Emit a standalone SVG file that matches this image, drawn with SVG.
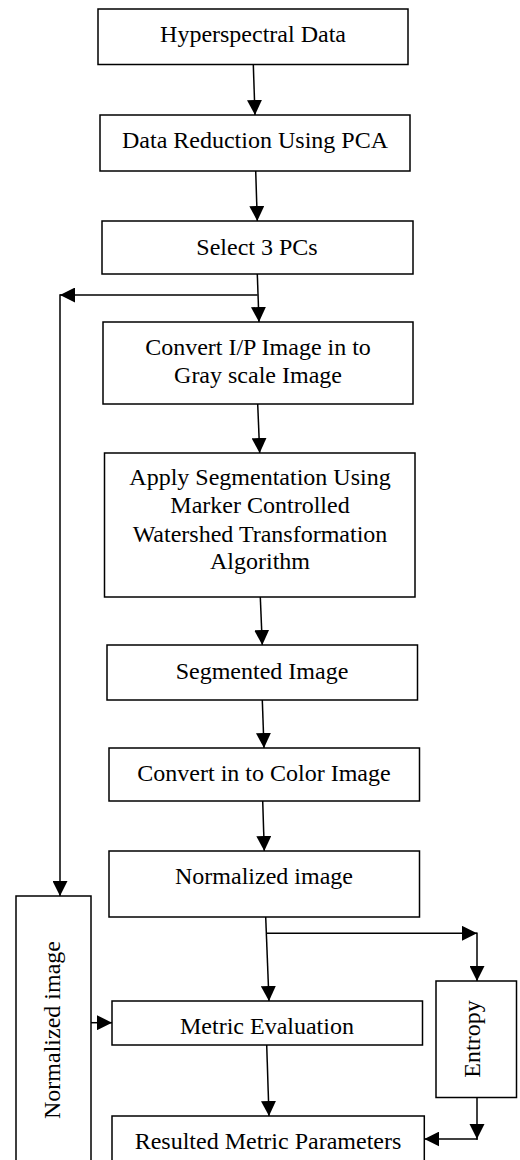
<svg xmlns="http://www.w3.org/2000/svg" width="520" height="1160" viewBox="0 0 520 1160">
<defs>
<style>
.box{fill:#fff;stroke:#000;stroke-width:1.5}
.lbl{font-family:"Liberation Serif","Times New Roman",serif;font-size:24px;fill:#000;text-anchor:middle}
.c{fill:none;stroke:#000;stroke-width:1.5}
.a{marker-end:url(#ah)}
</style>
<marker id="ah" markerUnits="userSpaceOnUse" markerWidth="15" markerHeight="15" viewBox="0 0 15 15" refX="15" refY="7.5" orient="auto">
<path d="M0,0 L15,7.5 L0,15 z" fill="#000"/>
</marker>
</defs>
<rect width="520" height="1160" fill="#fff"/>
<g id="connectors">
<path class="c a" d="M253.3,64.5 L255,115"/>
<path class="c a" d="M255.7,171 L257.3,221"/>
<path class="c a" d="M257.3,274 L259,322"/>
<path class="c a" d="M257.6,295 L60,295"/>
<path class="c a" d="M60,294.3 L60,896"/>
<path class="c a" d="M257.7,404 L259.7,453"/>
<path class="c a" d="M260.3,597 L262.3,645"/>
<path class="c a" d="M262.3,700 L264,748"/>
<path class="c a" d="M262.7,801 L264.3,851"/>
<path class="c a" d="M265.7,917 L269,1001"/>
<path class="c a" d="M266.4,933.3 L477,933.3"/>
<path class="c a" d="M477,932.6 L477,981"/>
<path class="c a" d="M91,1022.7 L112,1022.7"/>
<path class="c a" d="M266.7,1045 L269,1116"/>
<path class="c" d="M477,1097 L477,1139.7"/>
<path class="c a" d="M477.7,1139 L424.3,1139"/>
<path d="M469.5,1124 L477,1139 L484.5,1124 z" fill="#000"/>
</g>
<g id="n1"><rect class="box" x="98" y="9" width="310" height="55.5"/><text class="lbl" x="253" y="42">Hyperspectral Data</text></g>
<g id="n2"><rect class="box" x="100" y="115" width="310" height="56"/><text class="lbl" x="255" y="148">Data Reduction Using PCA</text></g>
<g id="n3"><rect class="box" x="102" y="221" width="311" height="53"/><text class="lbl" x="257" y="255">Select 3 PCs</text></g>
<g id="n4"><rect class="box" x="103" y="322" width="310" height="82"/><text class="lbl" x="258" y="355">Convert I/P Image in to</text><text class="lbl" x="258" y="383">Gray scale Image</text></g>
<g id="n5"><rect class="box" x="104.5" y="453" width="310.5" height="144"/><text class="lbl" x="260" y="485">Apply Segmentation Using</text><text class="lbl" x="260" y="513">Marker Controlled</text><text class="lbl" x="260" y="541.5">Watershed Transformation</text><text class="lbl" x="260" y="568.5">Algorithm</text></g>
<g id="n6"><rect class="box" x="107" y="645" width="310.5" height="55"/><text class="lbl" x="262" y="678.5">Segmented Image</text></g>
<g id="n7"><rect class="box" x="109" y="748" width="310.5" height="53"/><text class="lbl" x="264" y="781">Convert in to Color Image</text></g>
<g id="n8"><rect class="box" x="109" y="851" width="310.5" height="66"/><text class="lbl" x="264" y="883.5">Normalized image</text></g>
<g id="n9"><rect class="box" x="16" y="896" width="75" height="280"/><text class="lbl" transform="translate(60,1030) rotate(-90)">Normalized image</text></g>
<g id="n10"><rect class="box" x="112" y="1001" width="310.5" height="44"/><text class="lbl" x="267" y="1033.5">Metric Evaluation</text></g>
<g id="n11"><rect class="box" x="436" y="981" width="80.5" height="116.5"/><text class="lbl" transform="translate(480,1039) rotate(-90)">Entropy</text></g>
<g id="n12"><rect class="box" x="112" y="1116" width="312.3" height="60"/><text class="lbl" x="268" y="1148.5">Resulted Metric Parameters</text></g>
</svg>
